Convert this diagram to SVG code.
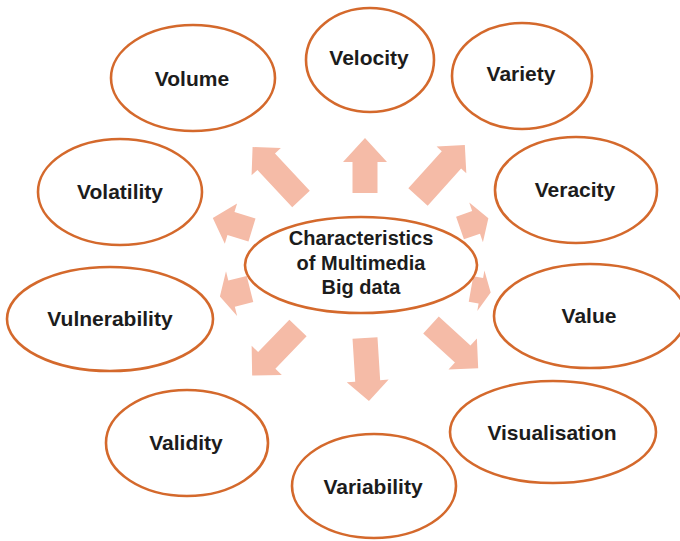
<svg xmlns="http://www.w3.org/2000/svg" width="680" height="541" viewBox="0 0 680 541">
<style>
.node ellipse{fill:#ffffff;stroke:#D4692C;stroke-width:2.6}
.lbl{font-family:"Liberation Sans",Arial,sans-serif;font-weight:bold;font-size:21px;fill:#1c1c1c;text-anchor:middle}
.ctr{font-size:20px}
.arr{fill:#F5BBA7;stroke:none}
</style>
<rect x="0" y="0" width="680" height="541" fill="#ffffff"/>
<g id="connectors">
  <!-- local shape: tail at origin pointing +x -->
  <polygon class="arr" transform="translate(301,199) rotate(-133)" points="0,-12 51,-12 51,-20 71,0 51,20 51,12 0,12"/>
  <polygon class="arr" transform="translate(365,193) rotate(-90)" points="0,-12.5 31,-12.5 31,-22 55,0 31,22 31,12.5 0,12.5"/>
  <polygon class="arr" transform="translate(418,197) rotate(-48)" points="0,-13 50,-13 50,-20 70,0 50,20 50,13 0,13"/>
  <polygon class="arr" transform="translate(460,228) rotate(-19)" points="0,-12 17,-12 17,-21 30,0 17,21 17,12 0,12"/>
  <polygon class="arr" transform="translate(471,289) rotate(10)" points="0,-13 10,-13 10,-20.5 20,0 10,20.5 10,13 0,13"/>
  <polygon class="arr" transform="translate(431,325) rotate(42.5)" points="0,-11.5 43,-11.5 43,-21 64,0 43,21 43,11.5 0,11.5"/>
  <polygon class="arr" transform="translate(365,338) rotate(86.4)" points="0,-12.5 43,-12.5 43,-21 63,0 43,21 43,12.5 0,12.5"/>
  <polygon class="arr" transform="translate(298,328) rotate(134)" points="0,-12 45,-12 45,-21 66,0 45,21 45,12 0,12"/>
  <polygon class="arr" transform="translate(250,289) rotate(166)" points="0,-13.5 19,-13.5 19,-23 31,0 19,23 19,13.5 0,13.5"/>
  <polygon class="arr" transform="translate(252,230) rotate(-163)" points="0,-12 22,-12 22,-21 41,0 22,21 22,12 0,12"/>
</g>
<g id="center" class="node">
  <ellipse cx="361" cy="265" rx="116" ry="48"/>
  <text class="lbl ctr" x="361" y="245">Characteristics</text>
  <text class="lbl ctr" x="361" y="270">of Multimedia</text>
  <text class="lbl ctr" x="361" y="294">Big data</text>
</g>
<g id="volume" class="node">
  <ellipse cx="193" cy="78" rx="82" ry="53"/>
  <text class="lbl" x="192" y="86">Volume</text>
</g>
<g id="velocity" class="node">
  <ellipse cx="370" cy="60" rx="64" ry="52"/>
  <text class="lbl" x="369" y="65">Velocity</text>
</g>
<g id="variety" class="node">
  <ellipse cx="522" cy="76" rx="70" ry="53"/>
  <text class="lbl" x="521" y="81">Variety</text>
</g>
<g id="veracity" class="node">
  <ellipse cx="576" cy="190" rx="81" ry="53"/>
  <text class="lbl" x="575" y="197">Veracity</text>
</g>
<g id="value" class="node">
  <ellipse cx="590" cy="316" rx="96" ry="52"/>
  <text class="lbl" x="589" y="323">Value</text>
</g>
<g id="visualisation" class="node">
  <ellipse cx="553" cy="432" rx="103" ry="51"/>
  <text class="lbl" x="552" y="440">Visualisation</text>
</g>
<g id="variability" class="node">
  <ellipse cx="374" cy="486" rx="82" ry="52"/>
  <text class="lbl" x="373" y="494">Variability</text>
</g>
<g id="validity" class="node">
  <ellipse cx="187" cy="443" rx="81" ry="53"/>
  <text class="lbl" x="186" y="450">Validity</text>
</g>
<g id="vulnerability" class="node">
  <ellipse cx="110" cy="319" rx="103" ry="52"/>
  <text class="lbl" x="110" y="326">Vulnerability</text>
</g>
<g id="volatility" class="node">
  <ellipse cx="120" cy="192" rx="82" ry="53"/>
  <text class="lbl" x="120" y="199">Volatility</text>
</g>
</svg>
